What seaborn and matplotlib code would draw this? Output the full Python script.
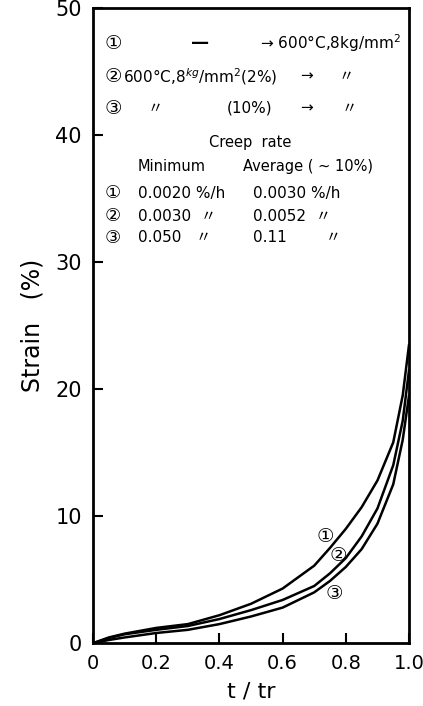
import seaborn as sns
import matplotlib.pyplot as plt
import pandas as pd

sns.set_style("ticks")
plt.rcParams['font.family'] = ['DejaVu Sans', 'Noto Sans CJK JP']
plt.rcParams['text.color'] = 'black'
plt.rcParams['axes.labelcolor'] = 'black'
plt.rcParams['xtick.color'] = 'black'
plt.rcParams['ytick.color'] = 'black'
plt.rcParams['axes.edgecolor'] = 'black'

# ----------- creep curves -----------
t_tr = [0, 0.05, 0.1, 0.2, 0.3, 0.4, 0.5, 0.6, 0.7, 0.75, 0.8, 0.85, 0.9, 0.95, 0.98, 1.0]
strain_1 = [0, 0.45, 0.75, 1.2, 1.5, 2.2, 3.1, 4.3, 6.1, 7.5, 9.0, 10.7, 12.8, 15.8, 19.5, 23.5]
strain_2 = [0, 0.4, 0.7, 1.05, 1.35, 1.9, 2.6, 3.4, 4.5, 5.5, 6.7, 8.4, 10.6, 14.0, 17.5, 21.5]
strain_3 = [0, 0.25, 0.45, 0.8, 1.05, 1.5, 2.1, 2.8, 4.0, 4.9, 6.0, 7.4, 9.4, 12.5, 16.0, 19.5]

curve_names = ["①", "②", "③"]
label_pos = [(0.735, 8.4), (0.775, 6.9), (0.765, 3.9)]

df = pd.DataFrame({"t": t_tr * 3,
                   "strain": strain_1 + strain_2 + strain_3,
                   "curve": sum([[c] * len(t_tr) for c in curve_names], [])})

# creep-rate table
min_rate = ["0.0020 %/h", "0.0030  〃", "0.050   〃"]
avg_rate = ["0.0030 %/h", "0.0052  〃", "0.11        〃"]

fig = plt.figure(figsize=(4.23, 7.06), dpi=100)
ax = fig.add_axes([0.22, 0.089, 0.747, 0.9])

sns.lineplot(data=df, x="t", y="strain", units="curve", estimator=None,
             color="black", lw=1.8, ax=ax, sort=False)

for name, (x, y) in zip(curve_names, label_pos):
    ax.text(x, y, name, fontsize=14, ha="center", va="center")

ax.set_xlim(0, 1.0)
ax.set_ylim(0, 50)
ax.set_xticks([0, 0.2, 0.4, 0.6, 0.8, 1.0])
ax.set_xticklabels(["0", "0.2", "0.4", "0.6", "0.8", "1.0"])
ax.set_yticks([0, 10, 20, 30, 40, 50])
ax.tick_params(direction="in", length=7, width=1.5, labelsize=15, pad=8)
ax.tick_params(axis="x", labelsize=14)
for s in ax.spines.values():
    s.set_linewidth(2)
ax.set_xlabel("t / tr", fontsize=16, labelpad=6)
ax.set_ylabel("Strain   (%)", fontsize=17, labelpad=8)

# ----------- condition text block -----------
fs = 11
ax.text(0.063, 47.2, "①", fontsize=14, va="center", ha="center")
ax.text(0.339, 47.2, "—", fontsize=13, va="center", ha="center", fontweight="bold")
ax.text(0.528, 47.2, "→ 600°C,8kg/mm$^2$", fontsize=fs, va="center")
ax.text(0.063, 44.6, "②", fontsize=14, va="center", ha="center")
ax.text(0.095, 44.6, "600°C,8$^{kg}$/mm$^2$(2%)", fontsize=fs, va="center")
ax.text(0.655, 44.6, "→", fontsize=fs, va="center")
ax.text(0.80, 44.6, "〃", fontsize=fs, va="center", ha="center")
ax.text(0.063, 42.1, "③", fontsize=14, va="center", ha="center")
ax.text(0.196, 42.1, "〃", fontsize=fs, va="center", ha="center")
ax.text(0.424, 42.1, "(10%)", fontsize=fs, va="center")
ax.text(0.655, 42.1, "→", fontsize=fs, va="center")
ax.text(0.81, 42.1, "〃", fontsize=fs, va="center", ha="center")

ax.text(0.497, 39.4, "Creep  rate", fontsize=10.5, va="center", ha="center")
ax.text(0.142, 37.5, "Minimum", fontsize=10.5, va="center")
ax.text(0.475, 37.5, "Average ( ~ 10%)", fontsize=10.5, va="center")
for i, y in enumerate([35.4, 33.6, 31.9]):
    ax.text(0.063, y, curve_names[i], fontsize=13, va="center", ha="center")
    ax.text(0.142, y, min_rate[i], fontsize=fs, va="center")
    ax.text(0.506, y, avg_rate[i], fontsize=fs, va="center")

plt.savefig("out.png", dpi=100)
